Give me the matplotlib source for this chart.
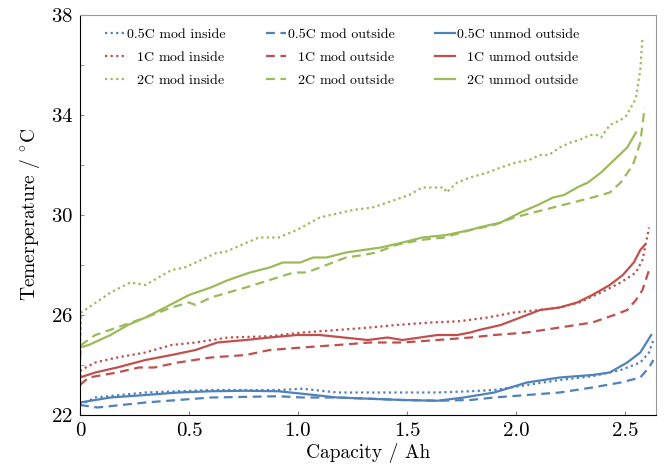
import matplotlib
matplotlib.use("Agg")
import matplotlib.pyplot as plt

plt.rcParams['font.family'] = 'serif'
plt.rcParams['font.serif'] = ['cmr10']
plt.rcParams['mathtext.fontset'] = 'cm'
plt.rcParams['axes.unicode_minus'] = False
plt.rcParams['axes.formatter.use_mathtext'] = True

# ---- data (Capacity / Ah, Temperature / degC) ----
b_in_x = [0, 0.07, 0.30, 0.60, 0.91, 1.02, 1.18, 1.48, 1.64, 1.79, 1.90, 2.05, 2.20, 2.35, 2.48, 2.57, 2.61, 2.63]
b_in_T = [22.4, 22.7, 22.9, 23.0, 23.0, 23.05, 22.9, 22.9, 22.9, 22.95, 23.0, 23.2, 23.4, 23.55, 23.8, 24.1, 24.5, 25.0]

r_in_x = [0, 0.005, 0.07, 0.17, 0.30, 0.42, 0.53, 0.68, 0.87, 1.02, 1.18, 1.33, 1.45, 1.61, 1.74, 1.87, 1.99, 2.11, 2.20, 2.29, 2.39, 2.48, 2.55, 2.58, 2.61]
r_in_T = [23.3, 23.8, 24.1, 24.3, 24.5, 24.8, 24.9, 25.1, 25.15, 25.3, 25.4, 25.5, 25.6, 25.7, 25.75, 25.9, 26.1, 26.2, 26.3, 26.5, 26.9, 27.3, 27.7, 28.2, 29.5]

g_in_x = [0, 0.005, 0.04, 0.14, 0.23, 0.30, 0.42, 0.48, 0.63, 0.66, 0.82, 0.91, 0.995, 1.10, 1.25, 1.34, 1.41, 1.51, 1.57, 1.67, 1.68, 1.73, 1.79, 1.87, 1.93, 2.00, 2.06, 2.11, 2.15, 2.20, 2.25, 2.29, 2.34, 2.37, 2.39, 2.43, 2.48, 2.51, 2.52, 2.54, 2.55, 2.57, 2.58]
g_in_T = [24.3, 26.1, 26.3, 26.9, 27.3, 27.2, 27.8, 27.9, 28.5, 28.5, 29.1, 29.1, 29.4, 29.9, 30.2, 30.3, 30.5, 30.8, 31.1, 31.1, 30.9, 31.3, 31.5, 31.7, 31.9, 32.1, 32.2, 32.4, 32.4, 32.7, 32.9, 33.0, 33.2, 33.2, 33.1, 33.6, 33.8, 34.0, 34.2, 34.5, 34.7, 35.8, 37.1]

b_out_x = [0, 0.08, 0.30, 0.60, 0.91, 1.02, 1.18, 1.33, 1.48, 1.64, 1.79, 1.90, 2.05, 2.20, 2.35, 2.48, 2.57, 2.61, 2.63]
b_out_T = [22.4, 22.3, 22.5, 22.7, 22.75, 22.7, 22.7, 22.65, 22.6, 22.57, 22.6, 22.7, 22.8, 22.9, 23.1, 23.3, 23.5, 23.9, 24.2]

r_out_x = [0, 0.04, 0.17, 0.27, 0.34, 0.45, 0.60, 0.76, 0.87, 1.02, 1.18, 1.33, 1.48, 1.64, 1.79, 1.90, 2.05, 2.20, 2.35, 2.45, 2.51, 2.55, 2.58, 2.61]
r_out_T = [23.2, 23.5, 23.7, 23.9, 23.9, 24.1, 24.3, 24.4, 24.6, 24.7, 24.8, 24.9, 24.9, 25.0, 25.1, 25.2, 25.3, 25.5, 25.7, 26.0, 26.2, 26.6, 27.0, 27.8]

g_out_x = [0, 0.005, 0.07, 0.17, 0.30, 0.42, 0.50, 0.53, 0.60, 0.76, 0.87, 0.98, 1.04, 1.10, 1.22, 1.30, 1.36, 1.45, 1.56, 1.67, 1.79, 1.90, 1.99, 2.08, 2.17, 2.26, 2.35, 2.43, 2.48, 2.52, 2.54, 2.57, 2.59]
g_out_T = [24.2, 24.8, 25.2, 25.5, 25.9, 26.3, 26.5, 26.4, 26.7, 27.1, 27.4, 27.7, 27.7, 27.9, 28.3, 28.4, 28.5, 28.8, 29.0, 29.1, 29.4, 29.6, 29.9, 30.1, 30.3, 30.5, 30.7, 30.9, 31.3, 31.8, 32.1, 32.9, 34.3]

b_un_x = [0, 0.14, 0.30, 0.45, 0.60, 0.76, 0.91, 1.02, 1.18, 1.33, 1.48, 1.64, 1.76, 1.90, 2.05, 2.20, 2.35, 2.43, 2.51, 2.57, 2.62]
b_un_T = [22.5, 22.7, 22.8, 22.9, 22.95, 22.97, 22.95, 22.85, 22.7, 22.65, 22.6, 22.57, 22.7, 22.9, 23.3, 23.5, 23.6, 23.7, 24.1, 24.5, 25.2]

r_un_x = [0, 0.07, 0.17, 0.30, 0.42, 0.53, 0.63, 0.76, 0.87, 0.995, 1.10, 1.21, 1.32, 1.41, 1.48, 1.56, 1.64, 1.73, 1.79, 1.83, 1.93, 2.02, 2.11, 2.20, 2.28, 2.35, 2.43, 2.49, 2.54, 2.57, 2.59]
r_un_T = [23.5, 23.7, 23.9, 24.2, 24.4, 24.6, 24.9, 25.0, 25.1, 25.2, 25.2, 25.1, 25.0, 25.1, 25.0, 25.1, 25.2, 25.2, 25.3, 25.4, 25.6, 25.9, 26.2, 26.3, 26.5, 26.8, 27.2, 27.6, 28.1, 28.6, 28.8]

g_un_x = [0, 0.04, 0.14, 0.22, 0.30, 0.39, 0.50, 0.60, 0.68, 0.78, 0.87, 0.93, 1.01, 1.07, 1.13, 1.22, 1.30, 1.38, 1.48, 1.57, 1.68, 1.79, 1.83, 1.93, 2.02, 2.10, 2.17, 2.22, 2.28, 2.33, 2.39, 2.45, 2.51, 2.55]
g_un_T = [24.7, 24.8, 25.2, 25.6, 25.9, 26.3, 26.8, 27.1, 27.4, 27.7, 27.9, 28.1, 28.1, 28.3, 28.3, 28.5, 28.6, 28.7, 28.9, 29.1, 29.2, 29.4, 29.5, 29.7, 30.1, 30.4, 30.7, 30.8, 31.1, 31.3, 31.7, 32.2, 32.7, 33.3]

pad = r"$\enspace\;$"
labels = ["0.5C mod inside", pad + "1C mod inside", pad + "2C mod inside",
          "0.5C mod outside", pad + "1C mod outside", pad + "2C mod outside",
          "0.5C unmod outside", pad + "1C unmod outside", pad + "2C unmod outside"]

x_ticks = [0, 0.5, 1.0, 1.5, 2.0, 2.5]
x_ticklabels = ["0", "0.5", "1.0", "1.5", "2.0", "2.5"]
y_major = [22, 26, 30, 34, 38]
y_minor = [24, 28, 32, 36]

blue, red, green = "#4F81BD", "#C0504D", "#9BBB59"
dotted = (0, (1, 1.5))
dashed = (0, (4, 2.5))

fig = plt.figure(figsize=(6.69, 4.66), dpi=100)
ax = fig.add_axes([80/669, 51/466, 576/669, 400/466])

series = [
    (b_in_x, b_in_T, blue, dotted), (r_in_x, r_in_T, red, dotted), (g_in_x, g_in_T, green, dotted),
    (b_out_x, b_out_T, blue, dashed), (r_out_x, r_out_T, red, dashed), (g_out_x, g_out_T, green, dashed),
    (b_un_x, b_un_T, blue, '-'), (r_un_x, r_un_T, red, '-'), (g_un_x, g_un_T, green, '-'),
]
for (xs, ts, c, ls), lab in zip(series, labels):
    ax.plot(xs, ts, color=c, linestyle=ls, linewidth=1.6, label=lab)

ax.set_xlim(0, 2.642)
ax.set_ylim(22, 38)
ax.set_xticks(x_ticks)
ax.set_xticklabels(x_ticklabels)
ax.set_yticks(y_major)
ax.set_yticks(y_minor, minor=True)
ax.tick_params(which='both', direction='in', length=3, color='#888888', labelsize=15, pad=5)
ax.tick_params(axis='y', which='both', right=False)
for s in ['top', 'right']:
    ax.spines[s].set_color('#999999')
for s in ['left', 'bottom']:
    ax.spines[s].set_color('black')

ax.set_xlabel("Capacity / Ah", fontsize=14, labelpad=2)
ax.set_ylabel(r"Temerperature / $^{\circ}$C", fontsize=14, labelpad=6)

ax.legend(loc='upper left', bbox_to_anchor=(0.02, 1.0), ncol=3, frameon=False,
          fontsize=10, handlelength=1.45, handletextpad=0.15, columnspacing=2.9,
          labelspacing=0.65, borderaxespad=0.55)

fig.savefig("out.png", dpi=100)
